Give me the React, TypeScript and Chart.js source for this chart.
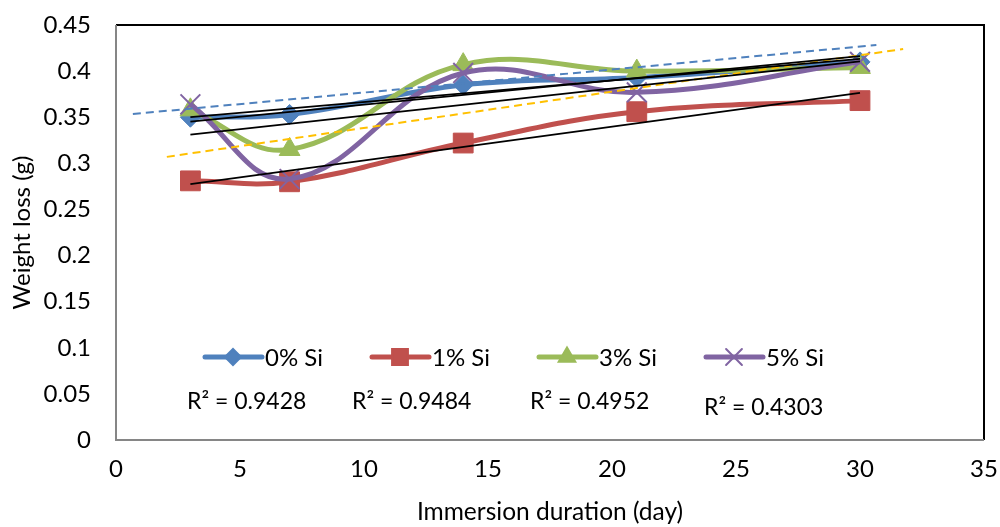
import React, { useEffect, useRef } from "react";
import { Chart, registerables } from "chart.js";
import { drawPoint } from "chart.js/helpers";

Chart.register(...registerables);

const days = [3, 7, 14, 21, 30];
const si0 = [0.35, 0.353, 0.385, 0.393, 0.41];
const si1 = [0.281, 0.28, 0.322, 0.356, 0.368];
const si3 = [0.358, 0.315, 0.407, 0.4, 0.404];
const si5 = [0.364, 0.283, 0.398, 0.377, 0.41];
const seriesNames = ["0% Si", "1% Si", "3% Si", "5% Si"];
const seriesColors = ["#4F81BD", "#C0504D", "#9BBB59", "#8064A2"];
const seriesMarkers = ["rectRot", "rect", "triangle", "crossRot"];
const markerRadius = [10, 14, 12, 14];
const r2Labels = ["R² = 0.9428", "R² = 0.9484", "R² = 0.4952", "R² = 0.4303"];
const blueDashX = [0.68, 30.66];
const blueDashY = [0.3535, 0.4283];
const orangeDashX = [2.05, 31.74];
const orangeDashY = [0.307, 0.424];
const xTicks = [0, 5, 10, 15, 20, 25, 30, 35];
const yTicks = [0, 0.05, 0.1, 0.15, 0.2, 0.25, 0.3, 0.35, 0.4, 0.45];
const yTickLabels = ["0", "0.05", "0.1", "0.15", "0.2", "0.25", "0.3", "0.35", "0.4", "0.45"];

const FONT = "Lato";

function pts(xs: number[], ys: number[]) {
  return xs.map((x, i) => ({ x, y: ys[i] }));
}

function linFit(xs: number[], ys: number[]) {
  const n = xs.length;
  const mx = xs.reduce((a, b) => a + b, 0) / n;
  const my = ys.reduce((a, b) => a + b, 0) / n;
  let sxy = 0;
  let sxx = 0;
  for (let i = 0; i < n; i++) {
    sxy += (xs[i] - mx) * (ys[i] - my);
    sxx += (xs[i] - mx) * (xs[i] - mx);
  }
  const slope = sxy / sxx;
  const b = my - slope * mx;
  const x0 = xs[0];
  const x1 = xs[n - 1];
  return [
    { x: x0, y: b + slope * x0 },
    { x: x1, y: b + slope * x1 },
  ];
}

const legendPlugin = {
  id: "customLegend",
  afterDatasetsDraw(chart: any) {
    const { ctx, chartArea } = chart;
    ctx.save();
    const ly = 357;
    for (let i = 0; i < 4; i++) {
      const x0 = chartArea.left + 89 + i * 167;
      ctx.strokeStyle = seriesColors[i];
      ctx.lineWidth = 5;
      ctx.lineCap = "round";
      ctx.beginPath();
      ctx.moveTo(x0, ly);
      ctx.lineTo(x0 + 57, ly);
      ctx.stroke();
      ctx.fillStyle = seriesColors[i];
      ctx.strokeStyle = seriesColors[i];
      ctx.lineWidth = 2;
      drawPoint(ctx, { pointStyle: seriesMarkers[i], radius: markerRadius[i] * 0.8, rotation: 0, borderWidth: 2 } as any, x0 + 28, ly);
      ctx.fillStyle = "#000";
      ctx.font = `24px ${FONT}`;
      ctx.textAlign = "left";
      ctx.textBaseline = "middle";
      ctx.fillText(seriesNames[i], x0 + 60, ly + 1);
    }
    const rx = [187, 352, 530, 704];
    const ry = [402, 402, 402, 408];
    ctx.font = `23px ${FONT}`;
    for (let i = 0; i < 4; i++) {
      ctx.fillText(r2Labels[i], rx[i] - 116 + chartArea.left, ry[i]);
    }
    ctx.restore();
  },
};

const framePlugin = {
  id: "frame",
  beforeDatasetsDraw(chart: any) {
    const { ctx, chartArea } = chart;
    const { left, right, top, bottom } = chartArea;
    ctx.save();
    ctx.lineWidth = 2;
    ctx.strokeStyle = "#000";
    ctx.beginPath();
    ctx.moveTo(left, top);
    ctx.lineTo(right, top);
    ctx.lineTo(right, bottom);
    ctx.stroke();
    ctx.strokeStyle = "#868686";
    ctx.beginPath();
    ctx.moveTo(left, top);
    ctx.lineTo(left, bottom);
    ctx.lineTo(right, bottom);
    ctx.stroke();
    ctx.restore();
  },
};

export default function App() {
  const ref = useRef<HTMLCanvasElement | null>(null);
  useEffect(() => {
    if (!ref.current) return;
    const series = [si0, si1, si3, si5];
    const seriesSets = series.map((ys, i) => ({
      label: seriesNames[i],
      data: pts(days, ys),
      borderColor: seriesColors[i],
      backgroundColor: seriesColors[i],
      borderWidth: 5,
      tension: 0.4,
      pointStyle: seriesMarkers[i],
      pointRadius: markerRadius[i],
      pointBorderWidth: i === 3 ? 2 : 1,
      pointBorderColor: seriesColors[i],
      pointBackgroundColor: seriesColors[i],
      order: 4 - i,
    }));
    const trendSets = series.map((ys) => ({
      data: linFit(days, ys),
      borderColor: "#000",
      borderWidth: 1.8,
      pointRadius: 0,
      tension: 0,
      order: 0,
    }));
    const dashSets = [
      { data: pts(blueDashX, blueDashY), borderColor: "#4F81BD", borderDash: [8, 5] },
      { data: pts(orangeDashX, orangeDashY), borderColor: "#FFC000", borderDash: [8, 5] },
    ].map((d) => ({ ...d, borderWidth: 2, pointRadius: 0, tension: 0, order: 0 }));

    const chart = new Chart(ref.current, {
      type: "line",
      data: { datasets: [...trendSets, ...dashSets, ...seriesSets] as any },
      plugins: [framePlugin, legendPlugin],
      options: {
        animation: false,
        responsive: false,
        maintainAspectRatio: false,
        layout: { padding: { top: 25, right: 14, left: 0, bottom: 0 } },
        plugins: { legend: { display: false }, tooltip: { enabled: false } },
        scales: {
          x: {
            type: "linear",
            min: 0,
            max: 35,
            grid: { display: false, drawTicks: false },
            border: { display: false },
            afterBuildTicks: (s: any) => {
              s.ticks = xTicks.map((v) => ({ value: v }));
            },
            afterFit: (s: any) => {
              s.height = 87;
              s.paddingLeft = 0;
              s.paddingRight = 0;
              s.paddingTop = 0;
              s.paddingBottom = 0;
            },
            ticks: {
              padding: 15,
              color: "#000",
              font: { family: FONT, size: 24 },
              maxRotation: 0,
              autoSkip: false,
            },
            title: {
              display: true,
              text: "Immersion duration (day)",
              color: "#000",
              font: { family: FONT, size: 24.5 },
              padding: { top: 0, bottom: 0 },
            },
          },
          y: {
            type: "linear",
            min: 0,
            max: 0.45,
            grid: { display: false, drawTicks: false },
            border: { display: false },
            afterBuildTicks: (s: any) => {
              s.ticks = yTicks.map((v) => ({ value: v }));
            },
            afterFit: (s: any) => {
              s.width = 116;
              s.paddingLeft = 0;
              s.paddingRight = 0;
              s.paddingTop = 0;
              s.paddingBottom = 0;
            },
            ticks: {
              padding: 25,
              color: "#000",
              font: { family: FONT, size: 24 },
              autoSkip: false,
              callback: (_v: any, i: number) => yTickLabels[i],
            },
            title: {
              display: true,
              text: "Weight loss (g)",
              color: "#000",
              font: { family: FONT, size: 24 },
              padding: { top: 8, bottom: 0 },
            },
          },
        },
      },
    });
    return () => chart.destroy();
  }, []);
  return (
    <div style={{ position: "fixed", left: 0, top: 0, width: 1000, height: 527, background: "#fff" }}>
      <canvas ref={ref} width={1000} height={527} style={{ width: 1000, height: 527 }} />
    </div>
  );
}
